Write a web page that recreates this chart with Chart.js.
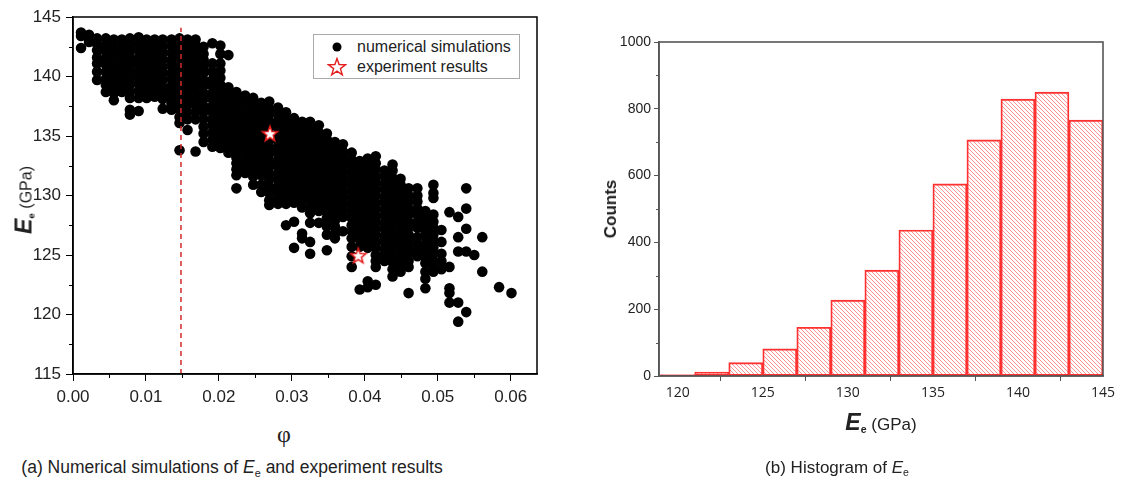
<!DOCTYPE html>
<html lang="en">
<head>
  <meta charset="UTF-8">
  <title>Numerical simulations and histogram of Ee</title>
  <script src="https://cdn.jsdelivr.net/npm/chart.js"></script>
  <style>
    body { margin: 0; width: 1121px; height: 486px; background: #fff; position: relative; overflow: hidden;
           font-family: "Liberation Sans", Arial, sans-serif; color: #222; }
    .box { position: absolute; }
    #leftBox { left: 0; top: 0; width: 560px; height: 420px; }
    #rightBox { left: 580px; top: 0; width: 540px; height: 420px; }
    .lbl { position: absolute; white-space: nowrap; transform: translate(-50%, -50%); }
    .rot { transform: translate(-50%, -50%) rotate(-90deg); }
    sub { font-size: 62%; vertical-align: -0.35em; }
    #legend { position: absolute; left: 313px; top: 34px; width: 205px; height: 43px; border: 1px solid #aaa;
              background: #fff; font-size: 16px; white-space: nowrap; }
    #legend div { position: absolute; left: 0; width: 205px; height: 20px; line-height: 20px; }
    #legend svg { position: absolute; left: 13px; top: 0; }
    #legend span { position: absolute; left: 43px; top: 0; }
  </style>
</head>
<body>

  <div class="box" id="leftBox"><canvas id="scatter"></canvas></div>
  <div class="box" id="rightBox"><canvas id="hist"></canvas></div>

  <div id="legend">
    <div style="top:2px">
      <svg width="20" height="20"><circle cx="10" cy="10" r="4.5" fill="#000"/></svg>
      <span>numerical simulations</span>
    </div>
    <div style="top:22px">
      <svg width="20" height="20"><polygon points="10,1.5 12.1,7.6 18.6,7.7 13.4,11.6 15.3,17.8 10,14.1 4.7,17.8 6.6,11.6 1.4,7.7 7.9,7.6" fill="#fff" stroke="#e51e1e" stroke-width="1.4"/></svg>
      <span>experiment results</span>
    </div>
  </div>

  <div class="lbl rot" style="left:24px; top:200px; font-size:16px;"><b><i style="font-size:23px">E</i><sub>e</sub></b> (GPa)</div>
  <div class="lbl" style="left:284px; top:434px; font-family:'Liberation Serif', serif; font-size:24px;">φ</div>
  <div class="lbl rot" style="left:611px; top:209px; font-size:17px; font-weight:bold;">Counts</div>
  <div class="lbl" style="left:881px; top:422px; font-size:17px;"><b><i style="font-size:23px">E</i><sub>e</sub></b> (GPa)</div>

  <div class="lbl" style="left:232px; top:468px; font-size:17.5px;">(a) Numerical simulations of <i>E</i><sub>e</sub> and experiment results</div>
  <div class="lbl" style="left:837px; top:468px; font-size:17px;">(b) Histogram of <i>E</i><sub>e</sub></div>

<script>

// ---- scatter: simulated points, one column of E values per porosity value ----
const phiCols = [0.0011, 0.0022, 0.0033, 0.0045, 0.0056, 0.0067, 0.0078, 0.0090, 0.0101, 0.0112,
                 0.0123, 0.0135, 0.0146, 0.0157, 0.0168, 0.0179, 0.0191, 0.0202, 0.0213, 0.0224,
                 0.0236, 0.0247, 0.0258, 0.0269, 0.0281, 0.0292, 0.0303, 0.0314, 0.0325, 0.0337,
                 0.0348, 0.0359, 0.0370, 0.0382, 0.0393, 0.0404, 0.0415, 0.0427, 0.0438, 0.0449,
                 0.0460, 0.0472, 0.0483, 0.0494, 0.0505, 0.0516, 0.0528, 0.0539, 0.0550, 0.0561,
                 0.0584, 0.0601];

const eCols = [
  [143.7, 143.4, 142.4],
  [143.5, 143.2, 142.9],
  [143.2, 142.7, 142.2, 141.6, 141.1, 140.4, 139.7],
  [143.2, 142.6, 142.1, 141.5, 141.0, 140.4, 139.8, 139.3, 138.7],
  [143.1, 142.5, 142.0, 141.4, 140.8, 140.3, 139.7, 139.1, 138.6, 138.0],
  [143.1, 142.5, 142.0, 141.4, 140.9, 140.3, 139.8, 139.2, 138.7],
  [143.2, 142.6, 142.1, 141.5, 140.9, 140.4, 139.8, 139.3, 138.7, 138.2, 137.2, 136.8],
  [143.3, 142.8, 142.2, 141.6, 141.1, 140.5, 140.0, 139.4, 138.8, 138.2, 137.1],
  [143.1, 142.5, 142.0, 141.4, 140.8, 140.3, 139.7, 139.2, 138.7, 138.2],
  [143.1, 142.6, 142.0, 141.5, 140.9, 140.4, 139.8, 139.3, 138.8, 138.3],
  [143.1, 142.5, 142.0, 141.4, 140.8, 140.3, 139.7, 139.1, 138.6, 138.1, 137.3],
  [143.1, 142.6, 142.0, 141.4, 140.9, 140.3, 139.8, 139.2, 138.7, 138.2, 137.7, 137.2],
  [143.2, 142.6, 142.1, 141.5, 141.0, 140.4, 139.9, 139.3, 138.8, 138.2, 137.7, 137.2, 136.6, 136.1, 133.8],
  [143.1, 142.5, 142.0, 141.4, 140.9, 140.3, 139.8, 139.2, 138.7, 138.1, 137.6, 137.0, 136.4, 135.5],
  [143.1, 142.6, 142.0, 141.5, 140.9, 140.4, 139.8, 139.3, 138.7, 138.2, 137.6, 137.0, 136.4, 133.7],
  [142.5, 141.9, 141.4, 140.8, 140.3, 139.7, 139.2, 138.6, 138.1, 137.5, 137.0, 136.4, 135.8, 135.2, 134.5],
  [142.8, 141.1, 140.4, 139.7, 139.2, 138.6, 138.1, 137.5, 137.0, 136.4, 135.9, 135.3, 134.7, 134.1],
  [142.6, 141.9, 141.1, 140.5, 139.9, 139.3, 138.8, 138.2, 137.7, 137.1, 136.6, 136.0, 135.5, 134.9, 134.4, 134.0],
  [141.8, 139.1, 138.6, 138.0, 137.5, 136.9, 136.4, 135.8, 135.2, 134.7, 134.1, 133.6],
  [138.7, 138.2, 137.6, 137.1, 136.5, 136.0, 135.4, 134.9, 134.3, 133.8, 133.2, 132.7, 132.2, 131.7, 130.6],
  [138.4, 137.9, 137.3, 136.8, 136.2, 135.7, 135.1, 134.6, 134.0, 133.5, 132.9, 132.4, 131.9],
  [138.2, 137.6, 137.1, 136.5, 136.0, 135.4, 134.9, 134.3, 133.8, 133.2, 132.7, 132.1, 131.6, 130.9],
  [137.8, 137.2, 136.7, 136.1, 135.6, 135.0, 134.5, 133.9, 133.4, 132.8, 132.3, 131.7, 130.9, 130.3],
  [137.9, 137.3, 136.8, 136.2, 135.7, 135.1, 134.6, 134.0, 133.5, 132.9, 132.4, 131.8, 131.3, 130.7, 130.2, 129.6, 129.2],
  [137.4, 136.9, 136.3, 135.8, 135.2, 134.7, 134.1, 133.6, 133.0, 132.5, 131.9, 131.4, 130.8, 130.3, 129.8, 129.3],
  [137.0, 136.4, 135.9, 135.3, 134.8, 134.2, 133.7, 133.1, 132.6, 132.0, 131.5, 130.9, 130.4, 129.8, 129.3, 127.5],
  [136.5, 136.0, 135.4, 134.9, 134.3, 133.8, 133.2, 132.7, 132.1, 131.6, 131.0, 130.5, 129.9, 129.4, 127.8, 125.6],
  [136.2, 135.7, 135.1, 134.6, 134.0, 133.5, 132.9, 132.4, 131.8, 131.3, 130.7, 130.2, 129.6, 129.0, 126.8, 126.4],
  [136.2, 135.6, 135.1, 134.5, 134.0, 133.4, 132.9, 132.3, 131.8, 131.2, 130.7, 130.1, 129.6, 129.0, 128.5, 127.7, 126.1, 125.1],
  [135.9, 135.3, 134.8, 134.2, 133.7, 133.1, 132.6, 132.0, 131.5, 130.9, 130.4, 129.8, 129.3, 128.7, 127.7],
  [135.2, 134.7, 134.1, 133.6, 133.0, 132.5, 131.9, 131.4, 130.8, 130.3, 129.7, 129.2, 128.6, 128.1, 127.4, 126.7, 125.4],
  [134.5, 134.0, 133.4, 132.9, 132.3, 131.8, 131.2, 130.7, 130.1, 129.6, 129.0, 128.5, 127.9, 127.4, 126.8, 126.4],
  [134.3, 133.7, 133.2, 132.6, 132.1, 131.5, 131.0, 130.4, 129.9, 129.3, 128.8, 128.2, 127.0],
  [133.6, 133.0, 132.5, 131.9, 131.4, 130.8, 130.3, 129.7, 129.2, 128.6, 128.1, 127.5, 127.0, 126.4, 125.7, 124.9, 124.0],
  [132.9, 132.3, 131.8, 131.2, 130.7, 130.1, 129.6, 129.0, 128.5, 127.9, 127.4, 126.8, 126.3, 125.7, 122.1],
  [133.1, 132.6, 132.0, 131.5, 130.9, 130.4, 129.8, 129.3, 128.7, 128.2, 127.6, 127.1, 126.5, 126.0, 125.6, 122.8, 122.3],
  [133.3, 132.7, 132.2, 131.6, 131.1, 130.5, 130.0, 129.4, 128.9, 128.3, 127.8, 127.2, 126.7, 126.1, 125.6, 125.0, 124.5, 124.0, 122.5],
  [132.1, 131.6, 131.0, 130.5, 129.9, 129.4, 128.8, 128.3, 127.7, 127.2, 126.6, 126.1, 125.5, 125.0, 124.5],
  [132.6, 132.1, 131.5, 131.0, 130.4, 129.9, 129.3, 128.8, 128.2, 127.7, 127.1, 126.6, 126.0, 125.5, 124.9, 124.4, 123.8, 123.2],
  [131.4, 130.9, 130.3, 129.8, 129.2, 128.7, 128.1, 127.6, 127.0, 126.5, 125.9, 125.4, 124.8, 124.2, 123.6],
  [130.6, 130.0, 129.5, 128.9, 128.4, 127.8, 127.3, 126.7, 126.2, 125.6, 125.1, 124.5, 124.0, 121.8],
  [130.6, 130.0, 129.5, 128.9, 128.4, 127.8, 127.3, 126.5, 125.9, 125.3, 124.9],
  [128.7, 128.1, 127.6, 127.0, 126.5, 125.9, 125.4, 124.8, 124.3, 123.6, 123.0, 122.2],
  [130.9, 130.2, 129.8, 128.4, 127.8, 127.3, 126.7, 126.2, 125.6, 125.1, 124.5, 124.0, 123.6],
  [127.1, 126.1, 125.1, 124.5, 123.8],
  [128.6, 124.0, 122.2, 121.8, 121.0],
  [128.2, 126.5, 125.3, 121.0, 119.4],
  [130.6, 128.9, 127.2, 125.3, 120.2],
  [125.0],
  [126.5, 123.6],
  [122.3],
  [121.8]
];

// experiment results (stars)
const expPhi = [0.0270, 0.0391];
const expE = [135.15, 124.9];

// red dashed reference line
const dashPhi = [0.0148, 0.0148];
const dashE = [115, 144.1];

const phiTicks = [0, 0.01, 0.02, 0.03, 0.04, 0.05, 0.06];
const phiTickLabels = ['0.00', '0.01', '0.02', '0.03', '0.04', '0.05', '0.06'];
const phiMinor = [0.005, 0.015, 0.025, 0.035, 0.045, 0.055];
const eTicks = [115, 120, 125, 130, 135, 140, 145];
const eMinor = [117.5, 122.5, 127.5, 132.5, 137.5, 142.5];

// ---- histogram ----
const binCenters = [120, 122, 124, 126, 128, 130, 132, 134, 136, 138, 140, 142, 144];
const binCounts = [4, 12, 40, 81, 146, 227, 317, 437, 575, 707, 829, 850, 766];
const histXTicks = [120, 125, 130, 135, 140, 145];
const histXMinor = [122.5, 127.5, 132.5, 137.5, 142.5];
const countTicks = [0, 200, 400, 600, 800, 1000];
const countMinor = [100, 300, 500, 700, 900];


Chart.defaults.font.family = '"Liberation Sans", Arial, sans-serif';
Chart.defaults.color = '#222';
Chart.defaults.animation = false;

// frame round the plot area + short minor ticks
const frameAndMinor = {
  id: 'frameAndMinor',
  afterDraw(chart, args, opts) {
    const ctx = chart.ctx;
    const a = chart.chartArea;
    const sx = chart.scales.x, sy = chart.scales.y;
    ctx.save();
    ctx.strokeStyle = opts.color;
    ctx.lineWidth = opts.width;
    ctx.strokeRect(a.left, a.top, a.right - a.left, a.bottom - a.top);
    ctx.lineWidth = 1;
    ctx.beginPath();
    opts.minorX.forEach(v => {
      const px = Math.round(sx.getPixelForValue(v)) + 0.5;
      ctx.moveTo(px, a.bottom);
      ctx.lineTo(px, a.bottom + opts.len);
    });
    opts.minorY.forEach(v => {
      const py = Math.round(sy.getPixelForValue(v)) + 0.5;
      ctx.moveTo(a.left - opts.len, py);
      ctx.lineTo(a.left, py);
    });
    ctx.stroke();
    ctx.restore();
  }
};

function starImage(r) {
  const c = document.createElement('canvas');
  c.width = c.height = r * 2 + 4;
  const g = c.getContext('2d');
  const cx = c.width / 2, cy = c.height / 2;
  g.beginPath();
  for (let i = 0; i < 10; i++) {
    const rr = i % 2 === 0 ? r : r * 0.42;
    const ang = -Math.PI / 2 + i * Math.PI / 5;
    g.lineTo(cx + rr * Math.cos(ang), cy + rr * Math.sin(ang));
  }
  g.closePath();
  g.fillStyle = '#fff';
  g.fill();
  g.strokeStyle = '#e51e1e';
  g.lineWidth = 1.5;
  g.stroke();
  return c;
}

function hatch() {
  const s = 4;
  const c = document.createElement('canvas');
  c.width = c.height = s;
  const g = c.getContext('2d');
  g.strokeStyle = 'rgba(255,60,60,0.55)';
  g.lineWidth = 1;
  g.beginPath();
  g.moveTo(0, 0); g.lineTo(s, s);
  g.moveTo(-1, s - 1); g.lineTo(1, s + 1);
  g.moveTo(s - 1, -1); g.lineTo(s + 1, 1);
  g.stroke();
  return g.createPattern(c, 'repeat');
}

const simPoints = [];
phiCols.forEach((p, i) => eCols[i].forEach(e => simPoints.push({ x: p, y: e })));

new Chart(document.getElementById('scatter'), {
  type: 'scatter',
  data: {
    datasets: [
      {
        type: 'line',
        data: dashPhi.map((p, i) => ({ x: p, y: dashE[i] })),
        borderColor: '#d42a2a',
        borderWidth: 1.5,
        borderDash: [5, 4],
        pointRadius: 0,
        order: 1
      },
      {
        data: simPoints,
        backgroundColor: '#000',
        borderWidth: 0,
        pointRadius: 5.3,
        order: 2
      },
      {
        data: expPhi.map((p, i) => ({ x: p, y: expE[i] })),
        pointStyle: starImage(8),
        order: 0
      }
    ]
  },
  options: {
    responsive: true,
    maintainAspectRatio: false,
    layout: { padding: { top: 17, right: 23, left: 0, bottom: 0 } },
    plugins: {
      legend: { display: false },
      tooltip: { enabled: false },
      frameAndMinor: { color: '#000', width: 1.5, len: 4, minorX: phiMinor, minorY: eMinor }
    },
    scales: {
      x: {
        type: 'linear',
        min: 0,
        max: 0.0636,
        afterBuildTicks: s => { s.ticks = phiTicks.map(v => ({ value: v })); },
        afterFit: s => { s.height = 46; },
        ticks: {
          font: { size: 17 },
          padding: 6,
          color: '#222',
          callback: v => phiTickLabels[phiTicks.indexOf(v)]
        },
        grid: { drawOnChartArea: false, tickLength: 7, color: '#000' },
        border: { color: '#000', width: 1.5 }
      },
      y: {
        min: 115,
        max: 145,
        afterBuildTicks: s => { s.ticks = eTicks.map(v => ({ value: v })); },
        afterFit: s => { s.width = 73; },
        ticks: { font: { size: 17 }, padding: 5, color: '#222', callback: v => String(v) },
        grid: { drawOnChartArea: false, tickLength: 7, color: '#000' },
        border: { color: '#000', width: 1.5 }
      }
    }
  },
  plugins: [frameAndMinor]
});

new Chart(document.getElementById('hist'), {
  type: 'bar',
  data: {
    datasets: [{
      data: binCenters.map((c, i) => ({ x: c, y: binCounts[i] })),
      backgroundColor: hatch(),
      borderColor: '#ff3030',
      borderWidth: 1.2,
      borderSkipped: false,
      barPercentage: 1,
      categoryPercentage: 1
    }]
  },
  options: {
    responsive: true,
    maintainAspectRatio: false,
    layout: { padding: { top: 42, right: 17, left: 0, bottom: 0 } },
    plugins: {
      legend: { display: false },
      tooltip: { enabled: false },
      frameAndMinor: { color: '#555', width: 1.6, len: 3, minorX: histXMinor, minorY: countMinor }
    },
    scales: {
      x: {
        type: 'linear',
        offset: false,
        min: 118.9,
        max: 145,
        afterBuildTicks: s => { s.ticks = histXTicks.map(v => ({ value: v })); },
        afterFit: s => { s.height = 44; },
        ticks: { font: { family: '"Open Sans", sans-serif', size: 14 }, padding: 4, color: '#222', callback: v => String(v) },
        grid: { drawOnChartArea: false, tickLength: 5, color: '#555' },
        border: { color: '#555', width: 1.6 }
      },
      y: {
        min: 0,
        max: 1000,
        afterBuildTicks: s => { s.ticks = countTicks.map(v => ({ value: v })); },
        afterFit: s => { s.width = 79; },
        ticks: { font: { size: 14 }, padding: 3, color: '#222', callback: v => String(v) },
        grid: { drawOnChartArea: false, tickLength: 5, color: '#555' },
        border: { color: '#555', width: 1.6 }
      }
    }
  },
  plugins: [frameAndMinor]
});

</script>
</body>
</html>
